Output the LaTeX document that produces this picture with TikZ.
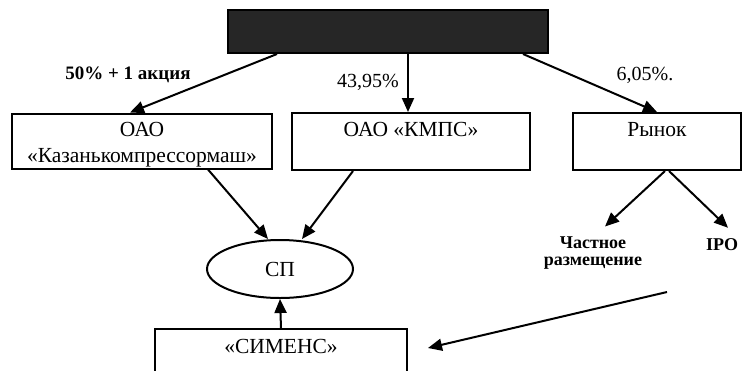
\documentclass[tikz,border=0pt]{standalone}
\usepackage{fontspec}
\setmainfont{Liberation Serif}
\usepackage{tikz}
\usetikzlibrary{positioning,arrows.meta,shapes.geometric}

\begin{document}
\begin{tikzpicture}[x=1pt, y=-1pt,
    every node/.style = {align=center, font=\fontsize{21.5}{27}\selectfont},
    box/.style = {draw, line width=2pt, inner sep=0pt},
    onetext/.style = {text height=14pt, text depth=24pt},
    oval/.style = {draw, ellipse, line width=2pt, minimum width=146pt, minimum height=58pt, inner sep=0pt},
    lbl/.style = {inner sep=1pt, font=\fontsize{20}{24}\selectfont},
    arr/.style = {line width=2pt, -{Triangle[length=14pt,width=12pt]}}]
    \useasboundingbox (0,0) rectangle (749,370);
    % top block (hidden name)
    \node[box, fill=black!85, minimum width=320pt, minimum height=43pt] (owner) at (388,31.5) {};
    % companies
    \node[box, text height=43pt, text depth=0pt, font=\fontsize{21.5}{26}\selectfont, minimum width=260pt, minimum height=55pt] (kazan) at (142,141) {ОАО\\«Казанькомпрессормаш»};
    \node[box, onetext, minimum width=238pt, minimum height=57pt] (kmps) at (411,141.5) {ОАО «КМПС»};
    \node[box, onetext, minimum width=168pt, minimum height=57pt] (market) at (657,141.5) {Рынок};
    \node[oval] (jv) at (280,269) {СП};
    \node[box, text height=14pt, text depth=37pt, minimum width=252pt, minimum height=72pt, anchor=north] (siemens) at (281,328) {«СИМЕНС»};
    % market branches
    \node[lbl, font=\fontsize{18}{17}\selectfont\bfseries] (private) at (593,253) {Частное\\размещение};
    \node[lbl, font=\fontsize{18}{17}\selectfont\bfseries] (ipo) at (722,245) {IPO};
    % shares
    \node[lbl, font=\fontsize{19}{23}\selectfont\bfseries] (share1) at (128,75) {50\% + 1 акция};
    \node[lbl] (share2) at (368,82) {43,95\%};
    \node[lbl] (share3) at (645,75) {6,05\%.};
    \coordinate (tail) at (667,292);
    \coordinate (head) at (428,348);

    \draw[arr] ([xshift=-111pt]owner.south) -- ([xshift=-12pt]kazan.north);
    \draw[arr] ([xshift=20pt]owner.south) -- ([xshift=-3pt]kmps.north);
    \draw[arr] ([xshift=135pt]owner.south) -- (market.north);
    \draw[arr] ([xshift=66pt]kazan.south) -- ([xshift=-12pt]jv.north);
    \draw[arr] ([xshift=-58pt]kmps.south) -- ([xshift=22pt]jv.north);
    \draw[arr] (siemens.north) -- (jv.south);
    \draw[arr] ([xshift=8pt]market.south) -- ([xshift=12pt,yshift=9pt]private.north);
    \draw[arr] ([xshift=12pt]market.south) -- ([xshift=6pt,yshift=10pt]ipo.north);
    \draw[arr] (tail) -- (head);
  \end{tikzpicture}
\end{document}
